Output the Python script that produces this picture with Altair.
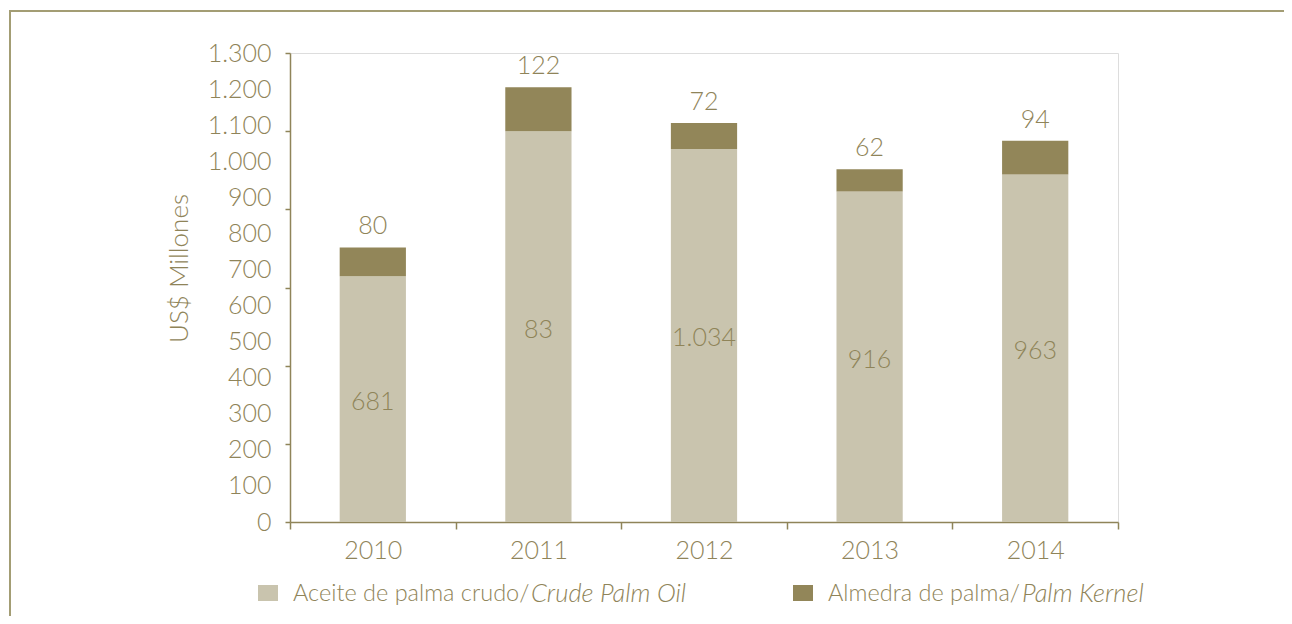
import altair as alt
import pandas as pd

# ---- data ----
years = ["2010", "2011", "2012", "2013", "2014"]
crude = [681, 1083, 1034, 916, 963]          # Aceite de palma crudo
kernel = [80, 122, 72, 62, 94]               # Almedra de palma
crude_labels = ["681", "83", "1.034", "916", "963"]
kernel_labels = ["80", "122", "72", "62", "94"]
series_roman = ["Aceite de palma crudo/", "Almedra de palma/"]
series_italic = ["Crude Palm Oil", "Palm Kernel"]
series_colors = ["#c9c4ae", "#928659"]
y_label_values = list(range(0, 1301, 100))
y_tick_values = [0, 216.67, 433.33, 650, 866.67, 1083.33, 1300]

FONT = "Lato"
TXT = "#8f8459"
AX = "#8f8459"
FRAME = "#a39d74"

df = pd.DataFrame({
    "year": years,
    "crude": crude,
    "kernel": kernel,
    "crude_label": crude_labels,
    "kernel_label": kernel_labels,
})
df["total"] = df["crude"] + df["kernel"]
df["crude_mid"] = df["crude"] / 2

yscale = alt.Scale(domain=[0, 1300], nice=False, zero=True)

x_enc = alt.X(
    "year:N",
    scale=alt.Scale(paddingInner=0, paddingOuter=0),
    axis=alt.Axis(
        title=None, labelAngle=0, tickBand="extent", tickSize=7, tickWidth=1.5,
        domainWidth=1.5, labelPadding=9, labelFontSize=25, labelFont=FONT,
        labelFontWeight=300, labelColor=TXT, domainColor=AX, tickColor=AX,
    ),
)

label_axis = alt.Axis(
    orient="left", values=y_label_values, ticks=False, domain=False, grid=False,
    labelExpr="replace(format(datum.value, ','), ',', '.')",
    labelPadding=19, labelFontSize=25, labelFont=FONT, labelFontWeight=300,
    labelColor=TXT, title="US$ Millones", titleFont=FONT, titleFontSize=26,
    titleFontWeight=300, titleColor=TXT, titleX=-111, titleY=215,
    titleAlign="center", titleBaseline="middle", titleAngle=270,
)
tick_axis = alt.Axis(
    orient="left", values=y_tick_values, labels=False, ticks=True, tickSize=5,
    tickWidth=1.5, domain=True, domainWidth=1.5, domainColor=AX, tickColor=AX,
    grid=False, title=None,
)

base = alt.Chart(df)

crude_bar = base.mark_bar(width=alt.RelativeBandSize(0.4), color=series_colors[0]).encode(
    x=x_enc, y=alt.Y("crude:Q", scale=yscale, axis=label_axis)
)
kernel_bar = base.mark_bar(width=alt.RelativeBandSize(0.4), color=series_colors[1]).encode(
    x=x_enc, y=alt.Y("crude:Q", scale=yscale, axis=tick_axis), y2="total:Q"
)
crude_text = base.mark_text(
    font=FONT, fontSize=25, fontWeight=300, color=TXT, baseline="middle", dy=3
).encode(x=x_enc, y=alt.Y("crude_mid:Q", scale=yscale, axis=None), text="crude_label:N")
kernel_text = base.mark_text(
    font=FONT, fontSize=25, fontWeight=300, color=TXT, baseline="middle", dy=-21
).encode(x=x_enc, y=alt.Y("total:Q", scale=yscale, axis=None), text="kernel_label:N")

one = alt.Chart(pd.DataFrame({"k": [0]}))
frame_left = one.mark_rule(color=FRAME, strokeWidth=2).encode(
    x=alt.value(-280), y=alt.value(-42), y2=alt.value(620)
)
frame_top = one.mark_rule(color=FRAME, strokeWidth=2).encode(
    x=alt.value(-281), x2=alt.value(1100), y=alt.value(-42)
)

legend_layers = []
sq_x = [-32, 503]
roman_x = [3, 538]
italic_x = [241, 732]
for i in range(2):
    legend_layers.append(one.mark_rect(color=series_colors[i]).encode(
        x=alt.value(sq_x[i]), x2=alt.value(sq_x[i] + 20),
        y=alt.value(532), y2=alt.value(548)))
    legend_layers.append(one.mark_text(
        font=FONT, fontSize=23.5, fontWeight=300, color=TXT, align="left", baseline="middle"
    ).encode(x=alt.value(roman_x[i]), y=alt.value(541), text=alt.value(series_roman[i])))
    legend_layers.append(one.mark_text(
        font=FONT, fontSize=25.5, fontWeight=300, fontStyle="italic", color=TXT,
        align="left", baseline="middle"
    ).encode(x=alt.value(italic_x[i]), y=alt.value(541), text=alt.value(series_italic[i])))

chart = alt.layer(
    crude_bar, kernel_bar, crude_text, kernel_text, frame_left, frame_top, *legend_layers
).resolve_axis(y="independent").properties(
    width=828, height=469,
    padding={"left": 282, "top": 45, "right": 166, "bottom": 94},
    autosize=alt.AutoSizeParams(type="none"),
).configure_view(stroke=None).configure(background="white")

chart.save("out.html", embed_options={"renderer": "svg", "actions": False})
